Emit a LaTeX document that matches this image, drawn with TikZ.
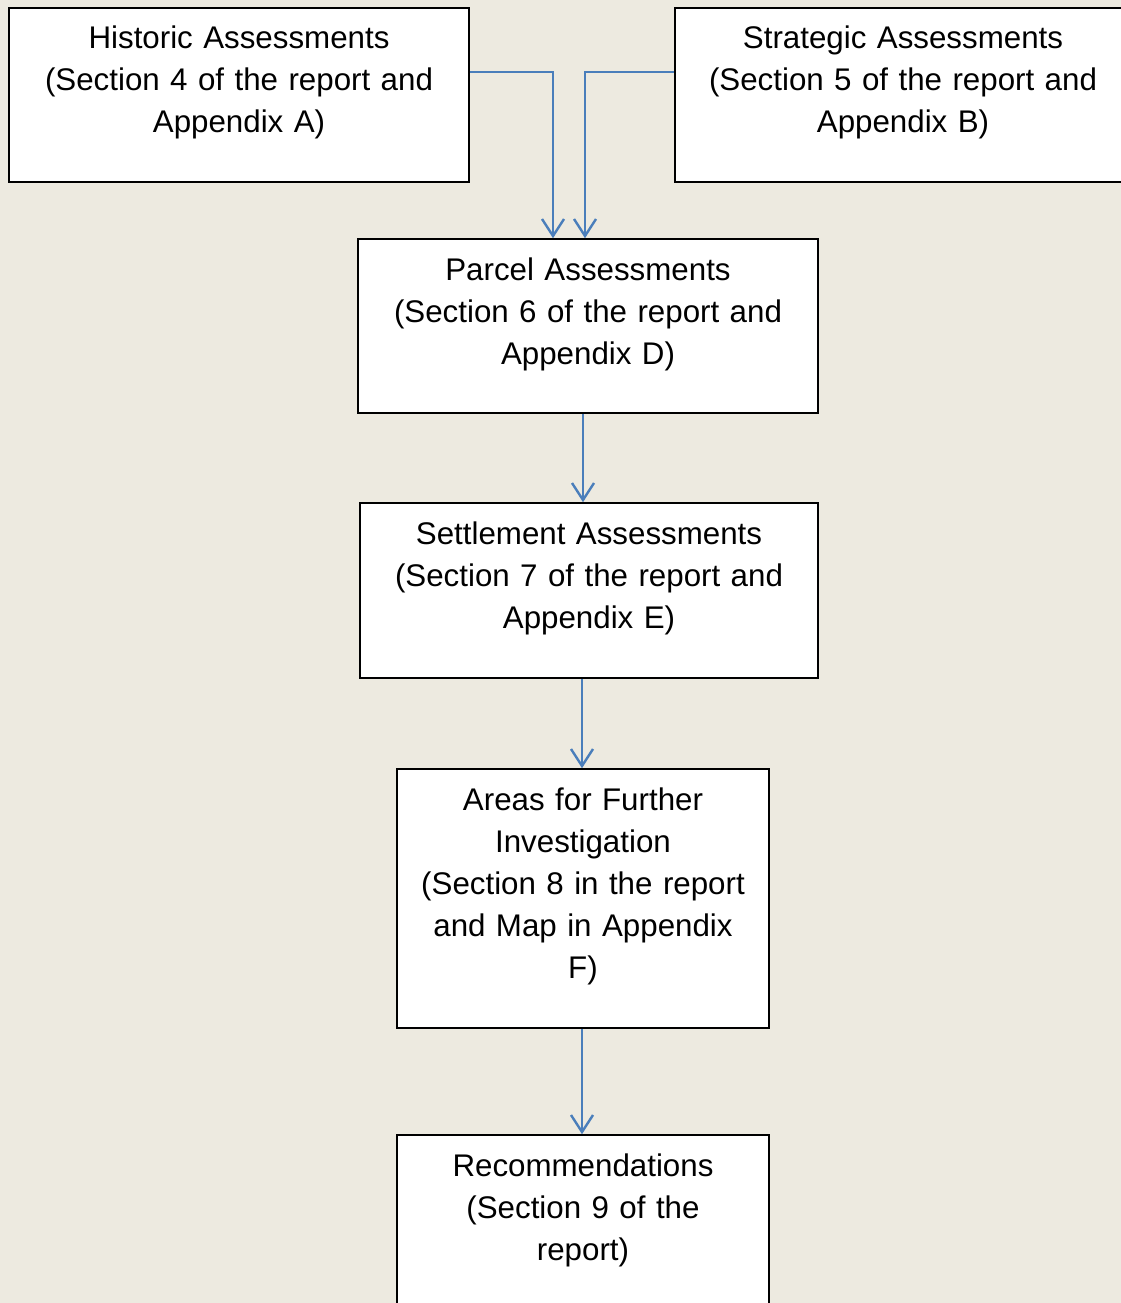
\documentclass[tikz,border=0pt]{standalone}
\usepackage{fontspec}
\setmainfont{Liberation Sans}
\usetikzlibrary{arrows.meta}
\definecolor{bgc}{HTML}{EDEAE0}
\definecolor{arrc}{HTML}{4A7EBB}
\begin{document}
\begin{tikzpicture}[x=1pt,y=-1pt]
\tikzset{
  box/.style={draw=black, line width=1.6pt, fill=white, rectangle, inner sep=0pt},
  lbl/.style={font=\fontsize{31.3}{42}\selectfont, align=center, text width=450pt, inner sep=0pt, anchor=base},
  arr/.style={draw=arrc, line width=2.4pt, -{Straight Barb[length=17pt,width=22pt,line width=2.4pt]}}
}
\useasboundingbox (0,0) rectangle (1121,1303);
\fill[bgc] (0,0) rectangle (1121,1303);
\begin{scope}
\clip (0,0) rectangle (1121,1303);
\node[box, minimum width=460pt, minimum height=174pt] (hist) at (239,95) {};
\node[box, minimum width=456pt, minimum height=174pt] (strat) at (903,95) {};
\node[box, minimum width=460pt, minimum height=174pt] (parcel) at (588,326) {};
\node[box, minimum width=458pt, minimum height=175pt] (settle) at (589,590.5) {};
\node[box, minimum width=372pt, minimum height=259pt] (areas) at (583,898.5) {};
\node[box, minimum width=372pt, minimum height=180pt] (recs) at (583,1225) {};

\node[lbl] (histT) at (239,48.5) {Historic Assessments\\(Section 4 of the report and\\Appendix A)};
\node[lbl] (stratT) at (903,48.5) {Strategic Assessments\\(Section 5 of the report and\\Appendix B)};
\node[lbl] (parcelT) at (588,280) {Parcel Assessments\\(Section 6 of the report and\\Appendix D)};
\node[lbl] (settleT) at (589,544) {Settlement Assessments\\(Section 7 of the report and\\Appendix E)};
\node[lbl, text width=350pt] (areasT) at (583,810) {Areas for Further\\Investigation\\(Section 8 in the report\\and Map in Appendix\\F)};
\node[lbl, text width=350pt] (recsT) at (583,1176) {Recommendations\\(Section 9 of the\\report)};
\end{scope}

\draw[arr] ([yshift=23pt]hist.east) -| ([xshift=-35pt]parcel.north);
\draw[arr] ([yshift=23pt]strat.west) -| ([xshift=-3pt]parcel.north);
\draw[arr] ([xshift=-5pt]parcel.south) -- ([xshift=-6pt]settle.north);
\draw[arr] ([xshift=-7pt]settle.south) -- ([xshift=-1pt]areas.north);
\draw[arr] ([xshift=-1pt]areas.south) -- ([xshift=-1pt]recs.north);
\end{tikzpicture}
\end{document}
